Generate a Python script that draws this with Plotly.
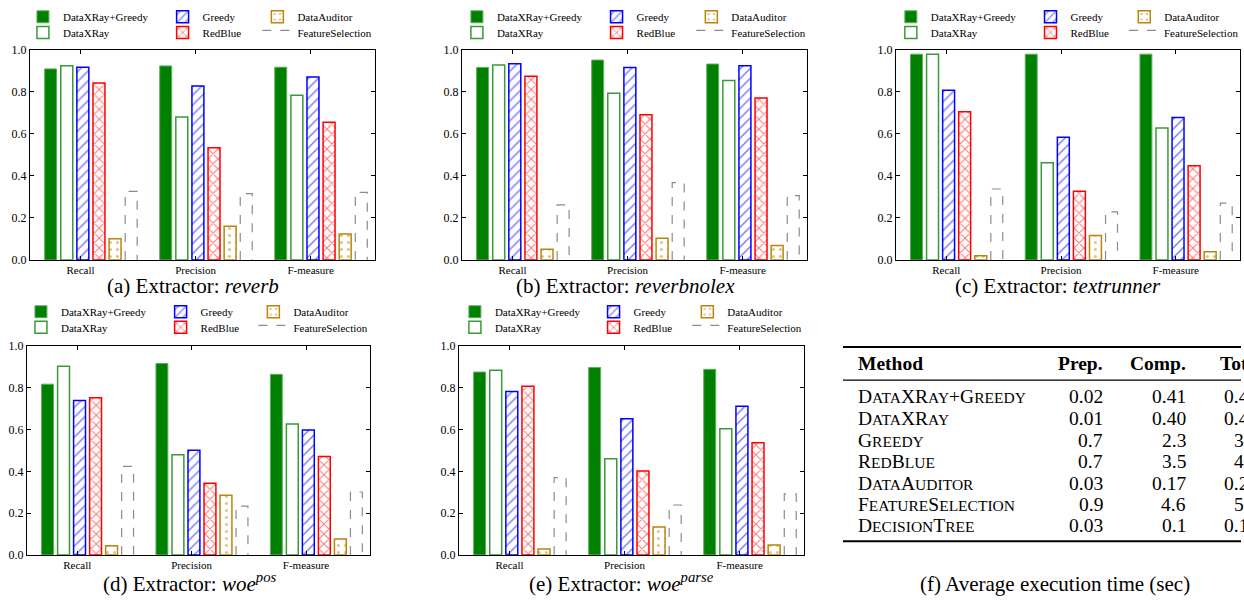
import plotly.graph_objects as go

W, H = 1244, 601

categories = ["Recall", "Precision", "F-measure"]
methods = ["DataXRay+Greedy", "DataXRay", "Greedy", "RedBlue", "DataAuditor", "FeatureSelection"]
y_ticks = [0.0, 0.2, 0.4, 0.6, 0.8, 1.0]

# (a) reverb
reverb_dxg = [0.910, 0.924, 0.918]
reverb_dx = [0.925, 0.681, 0.785]
reverb_greedy = [0.918, 0.829, 0.871]
reverb_redblue = [0.843, 0.535, 0.656]
reverb_auditor = [0.101, 0.160, 0.124]
reverb_fs = [0.327, 0.316, 0.322]

# (b) reverbnolex
nolex_dxg = [0.917, 0.952, 0.933]
nolex_dx = [0.928, 0.794, 0.855]
nolex_greedy = [0.934, 0.917, 0.925]
nolex_redblue = [0.875, 0.691, 0.771]
nolex_auditor = [0.051, 0.103, 0.069]
nolex_fs = [0.262, 0.368, 0.306]

# (c) textrunner
text_dxg = [0.980, 0.980, 0.980]
text_dx = [0.980, 0.463, 0.628]
text_greedy = [0.808, 0.584, 0.679]
text_redblue = [0.706, 0.327, 0.449]
text_auditor = [0.020, 0.117, 0.039]
text_fs = [0.338, 0.229, 0.271]

# (d) woe-pos
pos_dxg = [0.817, 0.916, 0.864]
pos_dx = [0.903, 0.479, 0.627]
pos_greedy = [0.739, 0.501, 0.598]
pos_redblue = [0.752, 0.343, 0.471]
pos_auditor = [0.044, 0.285, 0.076]
pos_fs = [0.424, 0.234, 0.301]

# (e) woe-parse
parse_dxg = [0.875, 0.897, 0.888]
parse_dx = [0.883, 0.460, 0.604]
parse_greedy = [0.782, 0.651, 0.711]
parse_redblue = [0.807, 0.402, 0.537]
parse_auditor = [0.028, 0.134, 0.048]
parse_fs = [0.370, 0.239, 0.292]

# (f) table
table_methods = ["DataXRay+Greedy", "DataXRay", "Greedy", "RedBlue",
                 "DataAuditor", "FeatureSelection", "DecisionTree"]
table_prep = ["0.02", "0.01", "0.7", "0.7", "0.03", "0.9", "0.03"]
table_comp = ["0.41", "0.40", "2.3", "3.5", "0.17", "4.6", "0.1"]
table_total = ["0.43", "0.41", "3.0", "4.2", "0.20", "5.5", "0.13"]

FONT = "Liberation Serif"


def px(x):
    return x / W


def py(y):
    return 1 - y / H


def small_caps(name, small=15.5):
    out = ""
    for ch in name:
        if ch.islower():
            out += "<span style='font-size:%spx'>%s</span>" % (small, ch.upper())
        else:
            out += ch
    return out


panels = [
    dict(data=[reverb_dxg, reverb_dx, reverb_greedy, reverb_redblue, reverb_auditor, reverb_fs],
         xd=(30, 376), yd=(44, 259), legx=(23, 163, 258), legy=(10, 26),
         cap="(a) Extractor: <i>reverb</i>", capxy=(193, 286)),
    dict(data=[nolex_dxg, nolex_dx, nolex_greedy, nolex_redblue, nolex_auditor, nolex_fs],
         xd=(463, 809), yd=(44, 259), legx=(458, 598, 693), legy=(10, 26),
         cap="(b) Extractor: <i>reverbnolex</i>", capxy=(627, 286)),
    dict(data=[text_dxg, text_dx, text_greedy, text_redblue, text_auditor, text_fs],
         xd=(898, 1243), yd=(44, 259), legx=(893, 1033, 1127), legy=(10, 26),
         cap="(c) Extractor: <i>textrunner</i>", capxy=(1061, 286)),
    dict(data=[pos_dxg, pos_dx, pos_greedy, pos_redblue, pos_auditor, pos_fs],
         xd=(27, 371), yd=(347, 561), legx=(21, 161, 254), legy=(312, 328),
         cap="(d) Extractor: <i>woe<sup>pos</sup></i>", capxy=(190, 589)),
    dict(data=[parse_dxg, parse_dx, parse_greedy, parse_redblue, parse_auditor, parse_fs],
         xd=(460, 806), yd=(347, 561), legx=(456, 595, 689), legy=(312, 328),
         cap="(e) Extractor: <i>woe<sup>parse</sup></i>", capxy=(623, 589)),
]

OFF0, STEP, BW = -0.312, 0.14, 0.104

styles = [
    dict(marker=dict(color="#008000", line=dict(color="#5fae5f", width=1))),
    dict(marker=dict(color="white", line=dict(color="#3a9a3a", width=1.5))),
    dict(marker=dict(color="white", line=dict(color="#0000ff", width=1.5),
                     pattern=dict(shape="/", fgcolor="#0000ff", bgcolor="white", size=7, solidity=0.22))),
    dict(marker=dict(color="white", line=dict(color="#ff0000", width=1.5),
                     pattern=dict(shape="x", fgcolor="#ff0000", bgcolor="white", size=7, solidity=0.3))),
    dict(marker=dict(color="white", line=dict(color="#b8860b", width=1.5),
                     pattern=dict(shape=".", fgcolor="#b8860b", bgcolor="white", size=7, solidity=0.15))),
]

fig = go.Figure()
layout = dict(width=W, height=H, margin=dict(l=0, r=0, t=0, b=0),
              paper_bgcolor="white", plot_bgcolor="white", barmode="overlay",
              showlegend=True)
annotations = []
shapes = []
legend_no = 0
xpos = list(range(len(categories)))

for k, p in enumerate(panels):
    ax = "" if k == 0 else str(k + 1)
    for i, (name, vals) in enumerate(zip(methods, p["data"])):
        legend_no += 1
        lg = "legend" if legend_no == 1 else "legend%d" % legend_no
        col = 0 if i < 2 else (1 if i < 4 else 2)
        row = i % 2
        layout[lg] = dict(x=px(p["legx"][col]), y=py(p["legy"][row]), xanchor="left", yanchor="middle",
                          bgcolor="rgba(0,0,0,0)", font=dict(family=FONT, size=11, color="black"),
                          itemwidth=30, tracegroupgap=0)
        if i < 5:
            fig.add_trace(go.Bar(x=xpos, y=vals, offset=OFF0 + i * STEP, width=BW, name=name,
                                 xaxis="x" + ax, yaxis="y" + ax, legend=lg, **styles[i]))
        else:
            xs, ys = [], []
            for c, v in zip(xpos, vals):
                left = c + OFF0 + i * STEP
                xs += [left, left, left + BW, left + BW, None]
                ys += [0, v, v, 0, None]
            fig.add_trace(go.Scatter(x=xs, y=ys, mode="lines", fill="toself", fillcolor="white",
                                     line=dict(color="#8c8c8c", width=1.2, dash="dash"), name=name,
                                     xaxis="x" + ax, yaxis="y" + ax, legend=lg))
    common = dict(showline=True, linecolor="black", linewidth=1, mirror="ticks", ticks="inside",
                  ticklen=4, tickcolor="black", showgrid=False, zeroline=False,
                  tickfont=dict(family=FONT, size=11, color="black"))
    layout["xaxis" + ax] = dict(domain=[px(p["xd"][0]), px(p["xd"][1])], range=[-0.44, 2.56],
                                tickvals=xpos, ticktext=categories, anchor="y" + ax, **common)
    ycommon = dict(common)
    ycommon["tickfont"] = dict(family=FONT, size=12, color="black")
    layout["yaxis" + ax] = dict(domain=[py(p["yd"][1]), py(p["yd"][0])], range=[0, 1.0],
                                tickvals=y_ticks, tickformat=".1f", anchor="x" + ax, **ycommon)
    annotations.append(dict(text=p["cap"], x=px(p["capxy"][0]), y=py(p["capxy"][1]), xref="paper",
                            yref="paper", xanchor="center", yanchor="middle", showarrow=False,
                            font=dict(family=FONT, size=21, color="black")))

# ---- table (f) ----
TF = 19.5
for yy, wd in [(348, 2), (382, 1.3), (547, 2)]:
    shapes.append(dict(type="line", xref="paper", yref="paper", x0=px(845), x1=1.0, y0=py(yy), y1=py(yy),
                       line=dict(color="black", width=wd)))


def tab_text(text, x, y, anchor, bold=False):
    annotations.append(dict(text="<b>%s</b>" % text if bold else text, x=px(x), y=py(y), xref="paper",
                            yref="paper", xanchor=anchor, yanchor="middle", showarrow=False,
                            font=dict(family=FONT, size=TF, color="black")))


tab_text("Method", 858, 365, "left", True)
tab_text("Prep.", 1108, 365, "right", True)
tab_text("Comp.", 1191, 365, "right", True)
tab_text("Total", 1268, 365, "right", True)
row_y = [399, 421, 444, 465, 488, 509, 531]
for name, pr, cp, tt, ry in zip(table_methods, table_prep, table_comp, table_total, row_y):
    tab_text(small_caps(name), 858, ry, "left")
    tab_text(pr, 1108, ry, "right")
    tab_text(cp, 1191, ry, "right")
    tab_text(tt, 1263, ry, "right")

annotations.append(dict(text="(f) Average execution time (sec)", x=px(1058), y=py(591), xref="paper",
                        yref="paper", xanchor="center", yanchor="middle", showarrow=False,
                        font=dict(family=FONT, size=21, color="black")))

layout["annotations"] = annotations
layout["shapes"] = shapes
fig.update_layout(**layout)
fig.write_html("out.html", config={"displayModeBar": False},
               post_script="document.body.style.margin='0';document.body.style.overflow='hidden';")
